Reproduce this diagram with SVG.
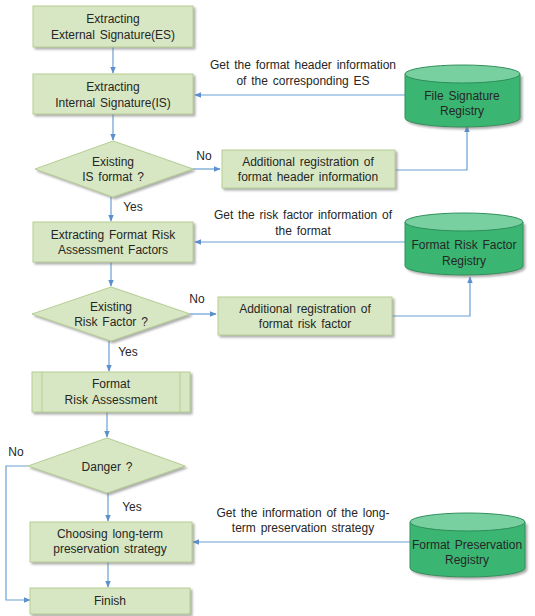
<svg xmlns="http://www.w3.org/2000/svg" width="535" height="616" viewBox="0 0 535 616">
<defs>
<style>
.box{fill:#d8e7c3;stroke:#b5cd92;stroke-width:1}
.t{font-family:"Liberation Sans",Arial,sans-serif;font-size:12px;word-spacing:1.5px;fill:#262626;text-anchor:middle}
.l{fill:none;stroke:#6a9fd4;stroke-width:1.2}
.cyl{fill:#3bb672;stroke:#2f8f5a;stroke-width:1}
.cylt{fill:#78cfa0;stroke:#2f8f5a;stroke-width:1}
</style>
<marker id="a" viewBox="0 0 10 10" refX="9" refY="5" markerWidth="7" markerHeight="7" orient="auto" markerUnits="userSpaceOnUse">
<path d="M0,1 L10,5 L0,9 z" fill="#5b8fce"/>
</marker>
<filter id="ds" x="-10%" y="-10%" width="130%" height="140%"><feDropShadow dx="2" dy="2" stdDeviation="1.2" flood-color="#777" flood-opacity="0.6"/></filter>
</defs>
<rect width="535" height="616" fill="#fff"/>
<g id="connectors">
<line class="l" x1="113" y1="47" x2="113" y2="73" marker-end="url(#a)"/>
<line class="l" x1="113" y1="114" x2="113" y2="140" marker-end="url(#a)"/>
<line class="l" x1="193" y1="169" x2="220" y2="169" marker-end="url(#a)"/>
<polyline class="l" points="395,170 467,170 467,126" marker-end="url(#a)"/>
<line class="l" x1="405" y1="95" x2="195" y2="95" marker-end="url(#a)"/>
<line class="l" x1="111" y1="197" x2="111" y2="221" marker-end="url(#a)"/>
<line class="l" x1="111" y1="262" x2="111" y2="286" marker-end="url(#a)"/>
<line class="l" x1="405" y1="242" x2="195" y2="242" marker-end="url(#a)"/>
<line class="l" x1="190" y1="314" x2="216" y2="314" marker-end="url(#a)"/>
<polyline class="l" points="392,316 470,316 470,277" marker-end="url(#a)"/>
<line class="l" x1="109" y1="341" x2="109" y2="371" marker-end="url(#a)"/>
<line class="l" x1="107" y1="412" x2="107" y2="437" marker-end="url(#a)"/>
<polyline class="l" points="28,466 6,466 6,600 30,600" marker-end="url(#a)"/>
<line class="l" x1="108" y1="493" x2="108" y2="521" marker-end="url(#a)"/>
<line class="l" x1="410" y1="542" x2="193" y2="542" marker-end="url(#a)"/>
<line class="l" x1="108" y1="562" x2="108" y2="587" marker-end="url(#a)"/>
<text class="t" x="303" y="69">Get the format header information</text>
<text class="t" x="303" y="85">of the corresponding ES</text>
<text class="t" x="204" y="160">No</text>
<text class="t" x="133" y="211">Yes</text>
<text class="t" x="303" y="219">Get the risk factor information of</text>
<text class="t" x="303" y="235">the format</text>
<text class="t" x="197" y="303">No</text>
<text class="t" x="128" y="356">Yes</text>
<text class="t" x="16" y="456">No</text>
<text class="t" x="132" y="511">Yes</text>
<text class="t" x="303" y="517">Get the information of the long-</text>
<text class="t" x="303" y="532">term preservation strategy</text>
</g>
<g id="n1"><rect class="box" x="33" y="6" width="160" height="41" filter="url(#ds)"/><text class="t" x="113" y="23">Extracting</text><text class="t" x="113" y="39">External Signature(ES)</text></g>
<g id="n2"><rect class="box" x="33" y="74" width="160" height="40" filter="url(#ds)"/><text class="t" x="113" y="91">Extracting</text><text class="t" x="113" y="107">Internal Signature(IS)</text></g>
<g id="d1"><polygon class="box" points="113,141 193,169 113,197 35,169" filter="url(#ds)"/><text class="t" x="113" y="166">Existing</text><text class="t" x="113" y="181">IS format ?</text></g>
<g id="a1"><rect class="box" x="222" y="150" width="173" height="38" filter="url(#ds)"/><text class="t" x="308" y="166">Additional registration of</text><text class="t" x="308" y="181">format header information</text></g>
<g id="c1"><path class="cyl" d="M405,74 L405,118 A57.5,9 0 0 0 520,118 L520,74" filter="url(#ds)"/><ellipse class="cylt" cx="462.5" cy="74" rx="57.5" ry="9"/><text class="t" x="462" y="100">File Signature</text><text class="t" x="462" y="115">Registry</text></g>
<g id="n3"><rect class="box" x="33" y="222" width="160" height="40" filter="url(#ds)"/><text class="t" x="113" y="239">Extracting Format Risk</text><text class="t" x="113" y="254">Assessment Factors</text></g>
<g id="d2"><polygon class="box" points="111,287 190,314 111,341 32,314" filter="url(#ds)"/><text class="t" x="111" y="311">Existing</text><text class="t" x="111" y="326">Risk Factor ?</text></g>
<g id="a2"><rect class="box" x="218" y="297" width="174" height="38" filter="url(#ds)"/><text class="t" x="305" y="313">Additional registration of</text><text class="t" x="305" y="328">format risk factor</text></g>
<g id="c2"><path class="cyl" d="M405,222 L405,266 A59,9 0 0 0 523,266 L523,222" filter="url(#ds)"/><ellipse class="cylt" cx="464" cy="222" rx="59" ry="9"/><text class="t" x="464" y="249">Format Risk Factor</text><text class="t" x="464" y="265">Registry</text></g>
<g id="n4"><rect class="box" x="32" y="372" width="158" height="40" filter="url(#ds)"/><line x1="42" y1="372" x2="42" y2="412" stroke="#b5cd92"/><line x1="180" y1="372" x2="180" y2="412" stroke="#b5cd92"/><text class="t" x="111" y="388">Format</text><text class="t" x="111" y="404">Risk Assessment</text></g>
<g id="d3"><polygon class="box" points="107,438 185,466 107,493 28,466" filter="url(#ds)"/><text class="t" x="107" y="471">Danger ?</text></g>
<g id="n5"><rect class="box" x="30" y="522" width="162" height="40" filter="url(#ds)"/><text class="t" x="110" y="538">Choosing long-term</text><text class="t" x="110" y="553">preservation strategy</text></g>
<g id="c3"><path class="cyl" d="M410,522 L410,568 A57.5,9 0 0 0 525,568 L525,522" filter="url(#ds)"/><ellipse class="cylt" cx="467.5" cy="522" rx="57.5" ry="9"/><text class="t" x="467" y="549">Format Preservation</text><text class="t" x="467" y="564">Registry</text></g>
<g id="n6"><rect class="box" x="30" y="588" width="160" height="26" filter="url(#ds)"/><text class="t" x="110" y="605">Finish</text></g>
</svg>
